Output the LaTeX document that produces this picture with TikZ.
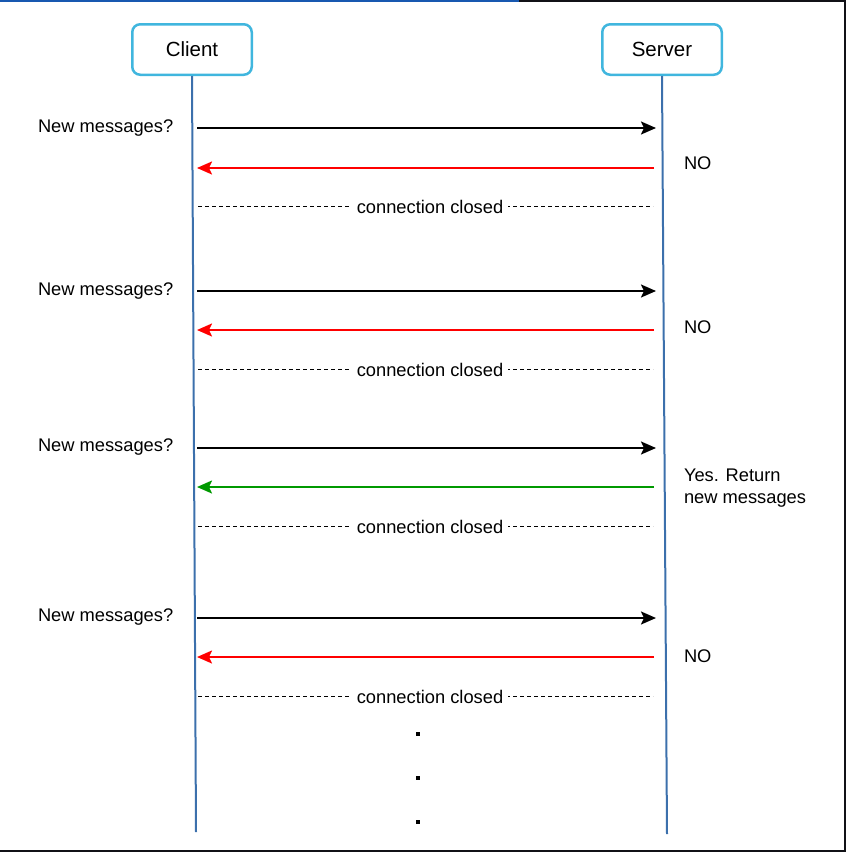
\documentclass[tikz,border=0pt]{standalone}
\usepackage[svgnames]{xcolor}
\usepackage{fontspec}
\setmainfont{Liberation Sans}
\usepackage{tikz}
\usetikzlibrary{arrows.meta}

\definecolor{LifeBlue}{RGB}{60,112,172}
\definecolor{BoxBlue}{RGB}{64,182,222}
\definecolor{FrameBlue}{RGB}{24,88,176}
\definecolor{FrameDark}{RGB}{17,17,22}
\definecolor{ReplyRed}{RGB}{255,0,0}
\definecolor{ReplyGreen}{RGB}{0,153,0}

\begin{document}
\begin{tikzpicture}[x=1pt, y=-1pt, line width=2pt,
      every node/.append style={font=\fontsize{18.3}{22}\selectfont},
      ask/.style={-{Stealth[length=15pt,width=13pt,inset=3pt]}, color=black},
      no/.style={-{Stealth[length=15pt,width=13pt,inset=3pt]}, color=ReplyRed},
      yes/.style={-{Stealth[length=15pt,width=13pt,inset=3pt]}, color=ReplyGreen},
      closed/.style={line width=1pt, dash pattern=on 4pt off 3pt, color=black}]
      \tikzstyle{actor} = [draw=BoxBlue, line width=2.5pt, rounded corners=8pt,
        minimum width=119.5pt, minimum height=50.5pt, font=\fontsize{20.5}{24}\selectfont]
      \tikzstyle{word} = [anchor=west, inner sep=0pt, align=left]
      \tikzstyle{gap} = [fill=white, inner sep=5pt]
      \tikzstyle{dot} = [fill=black, inner sep=0pt, minimum size=4pt]
      \useasboundingbox (0,0) rectangle (846,852);
      % frame of the screenshot
      \draw[line width=1.5pt, FrameBlue] (0,0.75) -- (519,0.75);
      \draw[line width=1.5pt, FrameDark] (519,0.75) -- (846,0.75);
      \draw[line width=2.5pt, FrameDark] (844.75,0) -- (844.75,852);
      \draw[line width=2.5pt, FrameDark] (0,850.75) -- (846,850.75);
      % actors and lifelines
      \node (Client) [actor] at (192,49.5) {Client};
      \node (Server) [actor] at (662,49.5) {Server};
      \coordinate (ClientEnd) at (196,832);
      \coordinate (ServerEnd) at (667,834);
      \draw[LifeBlue] (Client.south) -- (ClientEnd);
      \draw[LifeBlue] (Server.south) -- (ServerEnd);
      % first poll
      \coordinate (askA1) at (197,128); \coordinate (askB1) at (656,128);
      \coordinate (repA1) at (654,168); \coordinate (repB1) at (197,168);
      \coordinate (endA1) at (198,206); \coordinate (endB1) at (653,206);
      \node (ask1) [word] at (37,128) {New messages?};
      \node (rep1) [word] at (683,163) {NO};
      \draw[ask] (askA1) -- (askB1);
      \draw[no] (repA1) -- (repB1);
      \draw[closed] (endA1) -- (endB1);
      \node (end1) [gap] at (430,207) {connection closed};
      % second poll
      \coordinate (askA2) at (197,291); \coordinate (askB2) at (656,291);
      \coordinate (repA2) at (654,330); \coordinate (repB2) at (197,330);
      \coordinate (endA2) at (198,369); \coordinate (endB2) at (653,369);
      \node (ask2) [word] at (37,291) {New messages?};
      \node (rep2) [word] at (683,327) {NO};
      \draw[ask] (askA2) -- (askB2);
      \draw[no] (repA2) -- (repB2);
      \draw[closed] (endA2) -- (endB2);
      \node (end2) [gap] at (430,370) {connection closed};
      % third poll
      \coordinate (askA3) at (197,448); \coordinate (askB3) at (656,448);
      \coordinate (repA3) at (654,487); \coordinate (repB3) at (197,487);
      \coordinate (endA3) at (198,526); \coordinate (endB3) at (653,526);
      \node (ask3) [word] at (37,447) {New messages?};
      \node (rep3) [word] at (683,488) {Yes. Return\\new messages};
      \draw[ask] (askA3) -- (askB3);
      \draw[yes] (repA3) -- (repB3);
      \draw[closed] (endA3) -- (endB3);
      \node (end3) [gap] at (430,527) {connection closed};
      % fourth poll
      \coordinate (askA4) at (197,618); \coordinate (askB4) at (656,618);
      \coordinate (repA4) at (654,657); \coordinate (repB4) at (197,657);
      \coordinate (endA4) at (198,696); \coordinate (endB4) at (653,696);
      \node (ask4) [word] at (37,617) {New messages?};
      \node (rep4) [word] at (683,656) {NO};
      \draw[ask] (askA4) -- (askB4);
      \draw[no] (repA4) -- (repB4);
      \draw[closed] (endA4) -- (endB4);
      \node (end4) [gap] at (430,697) {connection closed};
      % and so on
      \node (more1) [dot] at (418,734) {};
      \node (more2) [dot] at (418,778) {};
      \node (more3) [dot] at (418,822) {};
  \end{tikzpicture}
\end{document}
